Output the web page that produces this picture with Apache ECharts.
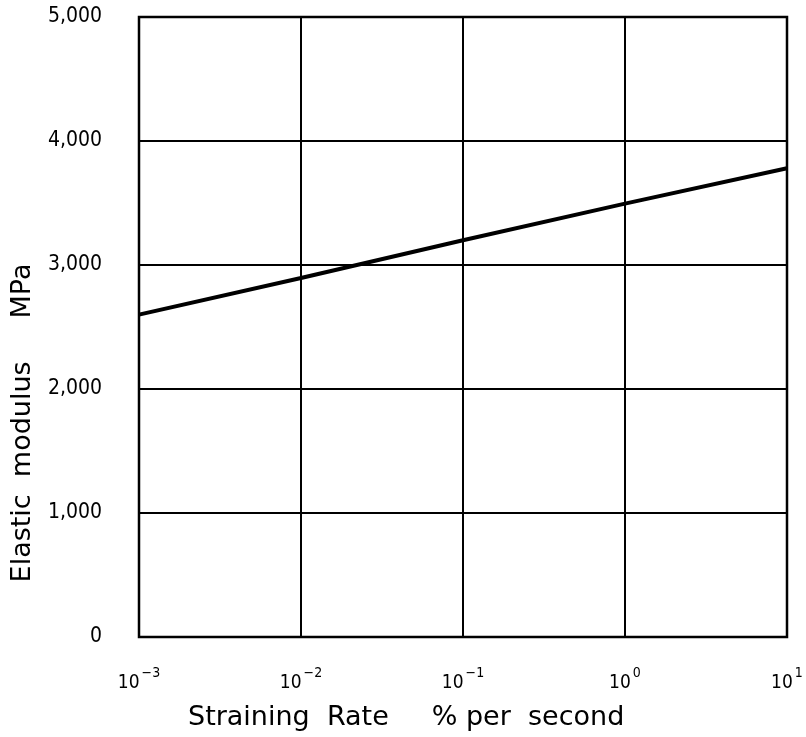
<!DOCTYPE html>
<html>
<head>
<meta charset="utf-8">
<title>Elastic modulus vs straining rate</title>
<script src="https://cdn.jsdelivr.net/npm/echarts@6/dist/echarts.min.js"></script>
<style>
  html, body { margin: 0; padding: 0; background: #fff; }
  #chart { width: 806px; height: 737px; }
</style>
</head>
<body>
<div id="chart"></div>
<script>
// straining rate, % per second
var rates = [0.001, 0.01, 0.1, 1, 10];
// elastic modulus, MPa
var modulus = [2600, 2895, 3200, 3495, 3780];
// tick labels
var xExponents = { '0.001': '−3', '0.01': '−2', '0.1': '−1', '1': '0', '10': '1' };
var yTicks = [0, 1000, 2000, 3000, 4000, 5000];

var tickFont = 'DejaVu Sans Condensed, DejaVu Sans, sans-serif';
var titleFont = 'DejaVu Sans, sans-serif';

var chart = echarts.init(document.getElementById('chart'));

var points = [];
for (var i = 0; i < rates.length; i++) {
	points.push([rates[i], modulus[i]]);
}

var option = {
	animation: false,
	backgroundColor: '#fff',
	grid: {
		left: 139,
		right: 19,
		top: 17,
		bottom: 100,
		show: true,
		borderColor: '#000',
		borderWidth: 2.5
	},
	xAxis: {
		type: 'log',
		logBase: 10,
		min: 0.001,
		max: 10,
		axisLine: { show: false },
		axisTick: { show: false },
		splitLine: { show: true, lineStyle: { color: '#000', width: 2 } },
		minorSplitLine: { show: false },
		axisLabel: {
			margin: 27,
			color: '#000',
			fontFamily: tickFont,
			formatter: function(v) {
				var key = String(+v.toPrecision(3));
				var e = xExponents[key];
				if (e === undefined) return '';
				return '{b|10}{s|' + e + '}';
			},
			rich: {
				b: { fontSize: 19, fontFamily: tickFont, color: '#000', padding: [10, 0, 0, 0] },
				s: { fontSize: 14, fontFamily: tickFont, color: '#000', padding: [0, 0, 10, 2] }
			}
		}
	},
	yAxis: {
		type: 'value',
		min: 0,
		max: 5000,
		interval: 1000,
		axisLine: { show: false },
		axisTick: { show: false },
		splitLine: { show: true, lineStyle: { color: '#000', width: 2 } },
		axisLabel: {
			margin: 37,
			color: '#000',
			fontSize: 21,
			fontFamily: tickFont,
			formatter: function(v) {
				if (yTicks.indexOf(v) < 0) return '';
				return v === 0 ? '0' : (v / 1000) + ',000';
			}
		}
	},
	graphic: [{
		type: 'text',
		x: 188,
		y: 718,
		style: {
			text: 'Straining  Rate     % per  second',
			fontSize: 27,
			fontFamily: titleFont,
			fill: '#000',
			verticalAlign: 'middle'
		}
	}, {
		type: 'text',
		x: 23,
		y: 423,
		rotation: Math.PI / 2,
		style: {
			text: 'Elastic  modulus     MPa',
			fontSize: 27,
			fontFamily: titleFont,
			fill: '#000',
			align: 'center',
			verticalAlign: 'middle'
		}
	}],
	series: [{
		type: 'line',
		data: points,
		symbol: 'none',
		lineStyle: { color: '#000', width: 4 }
	}]
};

chart.setOption(option);
</script>
</body>
</html>
